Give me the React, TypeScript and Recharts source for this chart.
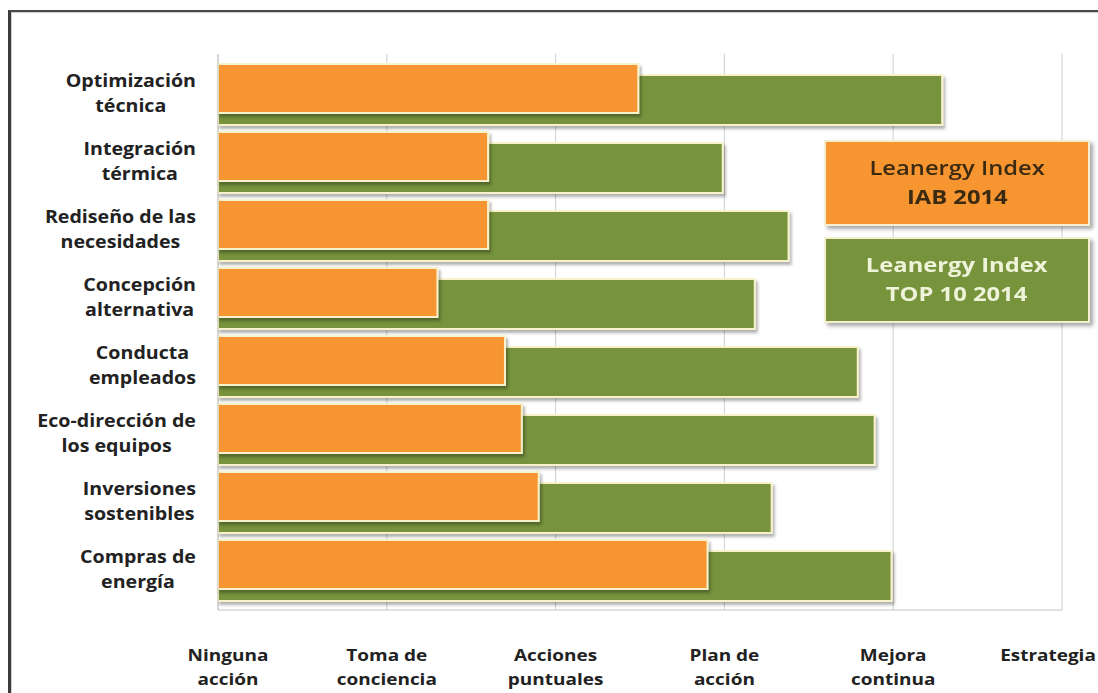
import React from "react";
import { BarChart, Bar, XAxis, YAxis, CartesianGrid, Legend } from "recharts";

const categories = [
  "Optimización\ntécnica",
  "Integración\ntérmica",
  "Rediseño de las\nnecesidades",
  "Concepción\nalternativa",
  "Conducta\nempleados",
  "Eco-dirección de\nlos equipos",
  "Inversiones\nsostenibles",
  "Compras de\nenergía",
];
const iabValues = [2.49, 1.6, 1.6, 1.3, 1.7, 1.8, 1.9, 2.9];
const top10Values = [4.29, 2.99, 3.38, 3.18, 3.79, 3.89, 3.28, 3.99];
const levelTicks = [0, 1, 2, 3, 4, 5];
const levelLabels = [
  "Ninguna\nacción",
  "Toma de\nconciencia",
  "Acciones\npuntuales",
  "Plan de\nacción",
  "Mejora\ncontinua",
  "Estrategia",
];
const seriesNames = {
  iab: "Leanergy Index\nIAB 2014",
  top10: "Leanergy Index\nTOP 10 2014",
};

const ORANGE = "#F79530";
const GREEN = "#77933C";
const FONT = "'Open Sans', sans-serif";

const data = categories.map((c, i) => ({ cat: c, iab: iabValues[i], top10: top10Values[i] }));

let canvasCtx: CanvasRenderingContext2D | null = null;
function measure(text: string, font: string): number {
  if (!canvasCtx) {
    const c = document.createElement("canvas");
    canvasCtx = c.getContext("2d");
  }
  if (!canvasCtx) return text.length * 9;
  canvasCtx.font = font;
  return canvasCtx.measureText(text).width;
}

const CAT_FONT_SIZE = 18;
const CAT_STRETCH = 1.09;
const CatTick = (props: any) => {
  const { x, y, payload } = props;
  const lines = String(payload.value).split("\n");
  const w = Math.max(...lines.map((l) => measure(l, `700 ${CAT_FONT_SIZE}px 'Open Sans'`))) * CAT_STRETCH;
  const cx = x - w / 2;
  const lh = 25;
  const cy = y + 6;
  return (
    <g transform={`translate(${cx},0) scale(${CAT_STRETCH},1) translate(${-cx},0)`}>
      <text x={cx} y={cy} textAnchor="middle" fontFamily={FONT} fontWeight={700} fontSize={CAT_FONT_SIZE} fill="#222">
        {lines.map((l, i) => (
          <tspan key={i} x={cx} y={cy + (i - (lines.length - 1) / 2) * lh + 6}>
            {l}
          </tspan>
        ))}
      </text>
    </g>
  );
};

const LVL_STRETCH = 1.15;
const LevelTick = (props: any) => {
  const { x, y, payload, index } = props;
  const label = levelLabels[index] ?? String(payload.value);
  const lines = label.split("\n");
  const last = index === levelLabels.length - 1;
  const lx = index === 0 ? x + 10 : last ? x - 14 : x;
  return (
    <g transform={`translate(${lx},0) scale(${LVL_STRETCH},1) translate(${-lx},0)`}>
      <text x={lx} y={y} textAnchor="middle" fontFamily={FONT} fontWeight={700} fontSize={16.5} fill="#222">
        {lines.map((l: string, i: number) => (
          <tspan key={i} x={lx} y={y + 51 + i * 24}>
            {l}
          </tspan>
        ))}
      </text>
    </g>
  );
};

const BarShape = (props: any) => {
  const { x, y, width, height, fill } = props;
  if (!width || width <= 0) return null;
  return (
    <rect
      x={x}
      y={y}
      width={width}
      height={height}
      fill={fill}
      stroke="#f7f2cc"
      strokeWidth={2}
      filter="url(#barShadow)"
    />
  );
};

const LegendContent = (props: any) => {
  const payload = (props.payload || []).slice();
  const order = ["iab", "top10"];
  payload.sort((a: any, b: any) => order.indexOf(a.dataKey) - order.indexOf(b.dataKey));
  return (
    <div style={{ display: "flex", flexDirection: "column", gap: 11 }}>
      {payload.map((p: any) => {
        const lines = String(p.value).split("\n");
        const isOrange = p.dataKey === "iab";
        return (
          <div
            key={p.dataKey}
            style={{
              width: 262,
              height: 82,
              background: p.color,
              border: "2px solid #f6efcf",
              boxShadow: "3px 3px 4px rgba(0,0,0,0.35)",
              display: "flex",
              flexDirection: "column",
              justifyContent: "center",
              alignItems: "center",
              fontFamily: FONT,
              fontSize: 19,
              lineHeight: "29px",
              color: isOrange ? "#3a2a12" : "#eef3da",
            }}
          >
            <div style={{ fontWeight: isOrange ? 600 : 700, transform: "scaleX(1.25)", whiteSpace: "nowrap" }}>{lines[0]}</div>
            <div style={{ fontWeight: 700, transform: "scaleX(1.25)", whiteSpace: "nowrap" }}>{lines[1]}</div>
          </div>
        );
      })}
    </div>
  );
};

export default function App() {
  return (
    <div style={{ position: "fixed", left: 0, top: 0, width: 1098, height: 693, overflow: "hidden", background: "#fff" }}>
      <div
        style={{
          position: "absolute",
          left: 8,
          top: 10,
          width: 1200,
          height: 800,
          borderLeft: "3px solid #3c3c3c",
          borderTop: "2px solid #4a4a4a",
          boxShadow: "inset 1px 1px 1px rgba(0,0,0,0.2)",
        }}
      />
      <div style={{ position: "absolute", left: 0, top: 0 }}>
        <BarChart
          width={1098}
          height={693}
          data={data}
          layout="vertical"
          margin={{ top: 54, right: 36, bottom: 0, left: 0 }}
          barCategoryGap={0}
        >
          <defs>
            <filter id="barShadow" x="-5%" y="-20%" width="115%" height="160%">
              <feDropShadow dx="2" dy="3" stdDeviation="1.5" floodColor="#000" floodOpacity="0.3" />
            </filter>
          </defs>
          <CartesianGrid vertical horizontal={false} stroke="#cfcfcf" />
          <XAxis
            type="number"
            domain={[0, 5]}
            ticks={levelTicks}
            height={83}
            axisLine={{ stroke: "#c4c4c4" }}
            tickLine={false}
            tickSize={0}
            tickMargin={0}
            tick={<LevelTick />}
            interval={0}
          />
          <YAxis
            yAxisId="o"
            type="category"
            dataKey="cat"
            width={218}
            padding={{ top: 0, bottom: 12 }}
            axisLine={{ stroke: "#c4c4c4" }}
            tickLine={false}
            tickSize={0}
            tickMargin={22}
            tick={<CatTick />}
            interval={0}
          />
          <YAxis yAxisId="g" type="category" dataKey="cat" hide width={0} padding={{ top: 12, bottom: 0 }} />
          <Legend
            layout="horizontal"
            verticalAlign="middle"
            align="center"
            content={<LegendContent />}
            wrapperStyle={{ position: "absolute", left: 824, top: 140, width: 270, height: 200 }}
          />
          <Bar
            yAxisId="g"
            dataKey="top10"
            name={seriesNames.top10}
            fill={GREEN}
            barSize={50}
            shape={<BarShape />}
            isAnimationActive={false}
          />
          <Bar
            yAxisId="o"
            dataKey="iab"
            name={seriesNames.iab}
            fill={ORANGE}
            barSize={49}
            shape={<BarShape />}
            isAnimationActive={false}
          />
        </BarChart>
      </div>
    </div>
  );
}
